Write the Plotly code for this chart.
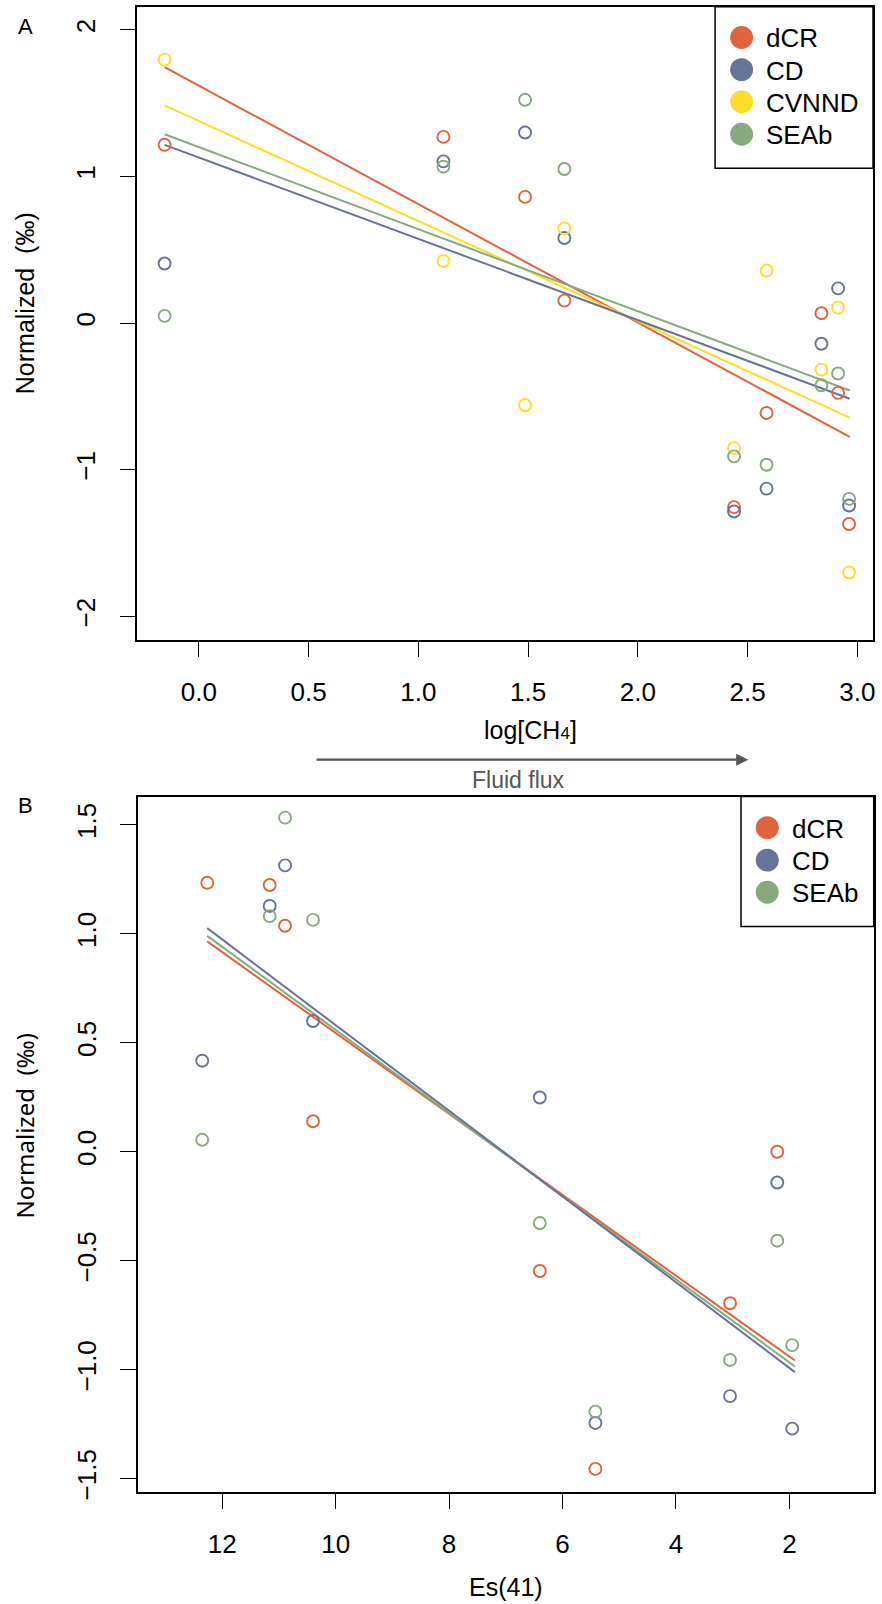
import plotly.graph_objects as go

W, H = 882, 1604

# ---------------- data: panel A ----------------
logCH4 = [-0.156, 1.114, 1.486, 1.665, 2.438, 2.586, 2.836, 2.912, 2.962]
A_dCR = [1.216, 1.270, 0.861, 0.154, -1.254, -0.612, 0.068, -0.475, -1.369]
A_CD = [0.407, 1.103, 1.300, 0.581, -1.284, -1.128, -0.140, 0.237, -1.243]
A_CVNND = [1.797, 0.425, -0.558, 0.646, -0.852, 0.359, -0.317, 0.106, -1.700]
A_SEAb = [0.050, 1.067, 1.523, 1.051, -0.908, -0.965, -0.423, -0.343, -1.198]
# fitted regression lines (intercept, slope) and plotted x extent
A_fit = {"dCR": (1.619, -0.8074), "CD": (1.1295, -0.5546),
         "CVNND": (1.3786, -0.6822), "SEAb": (1.2007, -0.5598)}
A_fit_x = [-0.156, 2.965]

# ---------------- data: panel B ----------------
B_dCR_x = [12.264, 11.163, 10.892, 10.399, 6.401, 5.421, 3.047, 2.214]
B_dCR = [1.234, 1.224, 1.037, 0.140, -0.547, -1.455, -0.695, 0.000]
Es41 = [12.352, 11.163, 10.892, 10.399, 6.401, 5.421, 3.047, 2.214, 1.951]
B_CD = [0.418, 1.128, 1.314, 0.600, 0.249, -1.244, -1.121, -0.141, -1.270]
B_SEAb = [0.055, 1.081, 1.533, 1.064, -0.327, -1.192, -0.955, -0.408, -0.887]
B_fit = {"dCR": (-1.311, 0.1856), "CD": (-1.385, 0.1966), "SEAb": (-1.348, 0.1907)}
B_fit_x = [12.264, 1.903]

A_xticks = [0.0, 0.5, 1.0, 1.5, 2.0, 2.5, 3.0]
A_yticks = [-2, -1, 0, 1, 2]
B_xticks = [12, 10, 8, 6, 4, 2]
B_yticks = [-1.5, -1.0, -0.5, 0.0, 0.5, 1.0, 1.5]

COL = {"dCR": "#E2623E", "CD": "#677399", "CVNND": "#FDDD2A", "SEAb": "#86A97E"}
FONT = "Liberation Sans, Arial, sans-serif"

fig = go.Figure()


def pts(x, y, name, xa, ya):
    fig.add_trace(go.Scatter(
        x=x, y=y, mode="markers", name=name, showlegend=False,
        xaxis=xa, yaxis=ya,
        marker=dict(symbol="circle-open", size=12, color=COL[name],
                    line=dict(width=1.9, color=COL[name]))))


def fitline(xr, coef, name, xa, ya):
    b, m = coef
    fig.add_trace(go.Scatter(
        x=xr, y=[b + m * v for v in xr], mode="lines", showlegend=False,
        xaxis=xa, yaxis=ya, line=dict(color=COL[name], width=2)))


# panel A lines then points
for nm in ["dCR", "CVNND", "SEAb", "CD"]:
    fitline(A_fit_x, A_fit[nm], nm, "x", "y")
pts(logCH4, A_dCR, "dCR", "x", "y")
pts(logCH4, A_CD, "CD", "x", "y")
pts(logCH4, A_CVNND, "CVNND", "x", "y")
pts(logCH4, A_SEAb, "SEAb", "x", "y")

for nm in ["dCR", "SEAb", "CD"]:
    fitline(B_fit_x, B_fit[nm], nm, "x2", "y2")
pts(B_dCR_x, B_dCR, "dCR", "x2", "y2")
pts(Es41, B_CD, "CD", "x2", "y2")
pts(Es41, B_SEAb, "SEAb", "x2", "y2")


def px(x):
    return x / W


def py(y):
    return 1 - y / H


axcommon = dict(showline=True, linecolor="black", linewidth=1.5, mirror=True,
                ticks="outside", ticklen=16, tickwidth=1.3, tickcolor="black",
                showgrid=False, zeroline=False,
                tickfont=dict(family=FONT, size=26, color="black"))

fig.update_layout(
    width=W, height=H, autosize=False,
    margin=dict(l=0, r=0, t=0, b=0),
    paper_bgcolor="white", plot_bgcolor="white",
    showlegend=False,
    xaxis=dict(domain=[px(137.7), px(875)], range=[-0.28, 3.071],
               tickvals=A_xticks, ticktext=[f"{v:.1f}" for v in A_xticks],
               ticklabelstandoff=12, anchor="y", **axcommon),
    yaxis=dict(domain=[py(643.3), py(6.7)], range=[-2.158, 2.158],
               tickvals=A_yticks, ticktext=[str(v).replace("-", "\u2212") for v in A_yticks],
               tickangle=-90, ticklabelstandoff=14, anchor="x", **axcommon),
    xaxis2=dict(domain=[px(138.3), px(875.7)], range=[13.485, 0.514],
                tickvals=B_xticks, ticktext=[str(v) for v in B_xticks],
                ticklabelstandoff=12, anchor="y2", **axcommon),
    yaxis2=dict(domain=[py(1500), py(801)], range=[-1.559, 1.630],
                tickvals=B_yticks, ticktext=[f"{v:.1f}".replace("-", "\u2212") for v in B_yticks],
                tickangle=-90, ticklabelstandoff=14, anchor="x2", **axcommon),
)

ann = []
shapes = []


def text(t, x, y, size, family=FONT, color="black", angle=0, xanchor="center"):
    ann.append(dict(text=t, x=px(x), y=py(y), xref="paper", yref="paper",
                    xanchor=xanchor, yanchor="middle", textangle=angle,
                    showarrow=False, font=dict(family=family, size=size, color=color)))


# panel labels
text("A", 26, 27, 22)
text("B", 26, 810, 22)

# y titles
text("Normalized\u00a0\u00a0(\u2030)", 25, 305, 25, angle=-90)
text("Normalized\u00a0\u00a0(\u2030)", 25, 1132, 24, family="Noto Sans, sans-serif", angle=-90)

# x titles
text('log[CH<span style="font-size:17px">4</span>]', 532, 734, 25)
text("Es(41)", 507, 1596, 25)

# fluid flux arrow
ann.append(dict(text="", x=px(750), y=py(764), ax=316.7 - 750, ay=0,
                xref="paper", yref="paper", axref="pixel", ayref="pixel",
                showarrow=True, arrowhead=2, arrowsize=1.1, arrowwidth=2.2,
                arrowcolor="#555555"))
text("Fluid flux", 520, 784, 23, color="#555555")


def legend(box, cx, tx, ys, names):
    x0, x1, y0, y1 = box
    shapes.append(dict(type="rect", xref="paper", yref="paper",
                       x0=px(x0), x1=px(x1), y0=py(y1), y1=py(y0),
                       line=dict(color="black", width=1.5), fillcolor="white", layer="above"))
    r = 11.5
    for yy, nm in zip(ys, names):
        shapes.append(dict(type="circle", xref="paper", yref="paper",
                           x0=px(cx - r), x1=px(cx + r), y0=py(yy + r), y1=py(yy - r),
                           fillcolor=COL[nm], line=dict(width=0), layer="above"))
        text(nm, tx, yy + 1, 26, xanchor="left")


legend((716.7, 875, 6.7, 169.3), 743.3, 765.5, [37.7, 70, 102.3, 135],
       ["dCR", "CD", "CVNND", "SEAb"])
legend((742.7, 875.7, 801, 931.7), 769, 791.5, [832.3, 865, 897.3],
       ["dCR", "CD", "SEAb"])

fig.update_layout(annotations=ann, shapes=shapes)

fig.write_html(
    "out.html",
    config={"displayModeBar": False},
    post_script="document.body.style.margin='0';document.body.style.padding='0';"
                "document.documentElement.style.overflow='hidden';",
)
